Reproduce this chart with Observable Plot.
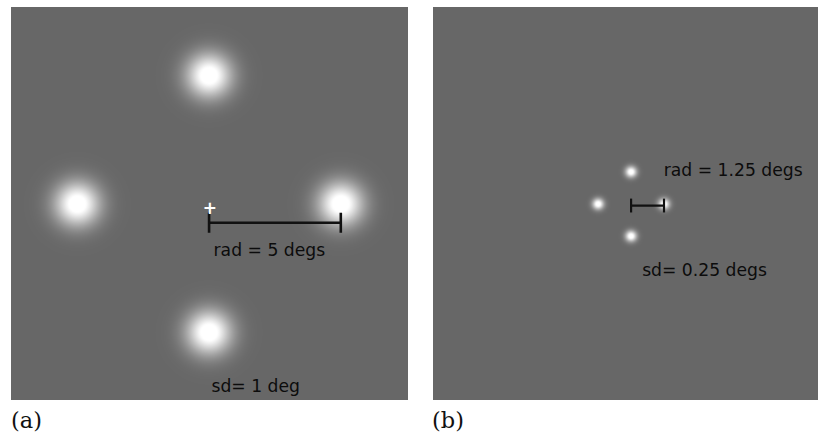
<!DOCTYPE html>
<html>
<head>
<meta charset="utf-8">
<script src="https://cdn.jsdelivr.net/npm/d3@7"></script>
<script src="https://cdn.jsdelivr.net/npm/@observablehq/plot@0.6"></script>
<style>
  html, body { margin: 0; padding: 0; background: #fff; width: 818px; height: 436px; overflow: hidden; position: relative; }
  .panel { position: absolute; top: 7px; width: 397px; height: 393px; }
  .panel svg { max-width: none !important; display: block; }
  .lab { position: absolute; top: 407px; font-family: "DejaVu Serif", serif; font-size: 22.5px; color: #111; }
</style>
</head>
<body>
<div id="pa" class="panel" style="left:11px"></div>
<div id="pb" class="panel" style="left:433px"></div>
<div class="lab" style="left:11px">(a)</div>
<div class="lab" style="left:432px">(b)</div>
<script>
// ---- data ----
const panelLabels = ["(a)", "(b)"];
const radiusDeg = [5, 1.25];
const sdDeg = [1, 0.25];
const radLabels = ["rad = 5 degs", "rad = 1.25 degs"];
const sdLabels = ["sd= 1 deg", "sd= 0.25 degs"];
const blobAnglesDeg = [0, 90, 180, 270];

// ---- display settings ----
const xDomain = [-7.5, 7.57];
const yDomain = [-7.65, 7.65];
const W = 397, H = 393;
const spread = 0.6, gain = 1.15;

function field(r, sd) {
  const s = sd * spread;
  const blobs = blobAnglesDeg.map(a => [r * Math.cos(a * Math.PI / 180), r * Math.sin(a * Math.PI / 180)]);
  return (x, y) => {
    let v = 0;
    for (const [cx, cy] of blobs) v += Math.exp(-((x - cx) ** 2 + (y - cy) ** 2) / (2 * s * s));
    return gain * v;
  };
}

const layout = [
  {bar: {y: -0.73, h: 0.39, sw: 2.6}, rad: [0.17, -2.04], sd: [0.09, -7.32], plus: true},
  {bar: {y: -0.06, h: 0.27, sw: 2.2}, rad: [1.24, 1.08], sd: [0.42, -2.82], plus: false}
];

function makePanel(i) {
  const r = radiusDeg[i];
  const L = layout[i];
  const bars = [{x1: 0, x2: r, y1: L.bar.y, y2: L.bar.y}];
  const ticks = [0, r].map(x => ({x1: x, x2: x, y1: L.bar.y - L.bar.h, y2: L.bar.y + L.bar.h}));
  const texts = [
    {x: L.rad[0], y: L.rad[1], t: radLabels[i]},
    {x: L.sd[0], y: L.sd[1], t: sdLabels[i]}
  ];
  const marks = [
    Plot.raster({fill: field(r, sdDeg[i]), x1: xDomain[0], x2: xDomain[1], y1: yDomain[0], y2: yDomain[1], width: W, height: H}),
    Plot.link(bars, {x1: "x1", x2: "x2", y1: "y1", y2: "y2", stroke: "#111", strokeWidth: L.bar.sw}),
    Plot.link(ticks, {x1: "x1", x2: "x2", y1: "y1", y2: "y2", stroke: "#111", strokeWidth: L.bar.sw}),
    Plot.text(texts, {x: "x", y: "y", text: "t", textAnchor: "start", lineAnchor: "bottom", fill: "#0c0c0c", fontSize: 17.2, fontFamily: "DejaVu Sans"})
  ];
  if (L.plus) marks.push(Plot.text([{x: 0.03, y: -0.18}], {x: "x", y: "y", text: () => "+", fill: "white", fontSize: 17, fontWeight: "bold", fontFamily: "DejaVu Sans"}));
  return Plot.plot({
    width: W, height: H,
    margin: 0,
    x: {domain: xDomain, axis: null},
    y: {domain: yDomain, axis: null},
    color: {type: "linear", domain: [0, 1], range: ["#676767", "#ffffff"], clamp: true},
    style: {background: "#676767", maxWidth: "none"},
    marks
  });
}

document.getElementById("pa").append(makePanel(0));
document.getElementById("pb").append(makePanel(1));
</script>
</body>
</html>
